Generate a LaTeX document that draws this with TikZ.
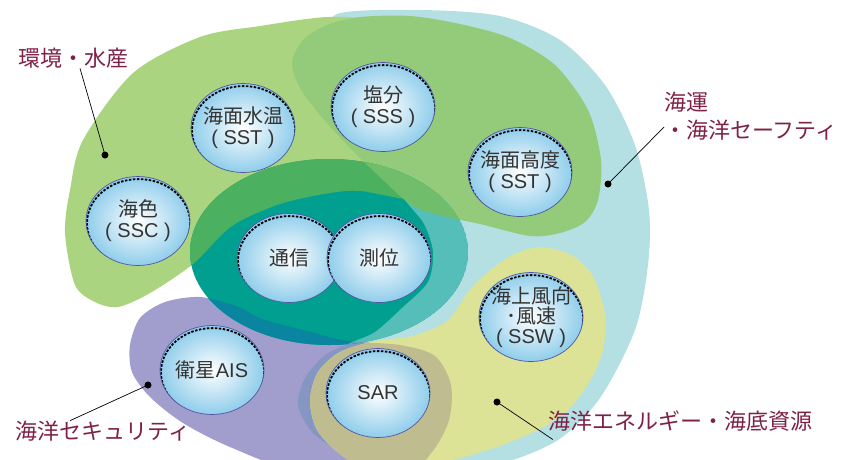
\documentclass[tikz,border=0pt]{standalone}
\usepackage{fontspec}
\setmainfont{Noto Sans CJK JP}
\newfontfamily\latinfont{Liberation Sans}
\usetikzlibrary{shapes.geometric}

\definecolor{seablue}{HTML}{B4E0E4}
\definecolor{envgreen}{HTML}{AAD47F}
\definecolor{midgreen}{HTML}{94CB7A}
\definecolor{comteal}{HTML}{009F8F}
\definecolor{comgreen}{HTML}{4BB060}
\definecolor{commid}{HTML}{70BE6B}
\definecolor{comsea}{HTML}{55BEB9}
\definecolor{comsec}{HTML}{0985A0}
\definecolor{comsecsea}{HTML}{5BA8BA}
\definecolor{secpurple}{HTML}{A19ECD}
\definecolor{secsea}{HTML}{8596C3}
\definecolor{enyellow}{HTML}{DCE397}
\definecolor{enolive}{HTML}{BFBD90}
\definecolor{bubbleblue}{HTML}{8FCDEB}
\definecolor{bubbleline}{HTML}{5455A0}
\definecolor{bubbleink}{HTML}{333333}
\definecolor{labelred}{HTML}{7E2147}

\tikzset{
  bubbleedge/.style={black, line width=1.8pt, dash pattern=on 2.5pt off 1.5pt},
  bubble/.style={ellipse, draw=bubbleline, line width=0.7pt, inner color=white,
    outer color=bubbleblue, minimum width=104pt, minimum height=89pt, inner sep=0pt,
    path picture={\draw[bubbleedge] ([xshift=0.6pt,yshift=-2.2pt]path picture bounding box.center)
      ellipse [x radius=51.6, y radius=44.1];}},
  bubbletext/.style={align=center, text=bubbleink, inner sep=0pt,
    font=\fontsize{20}{21}\selectfont},
  arealabel/.style={text=labelred, inner sep=0pt, font=\fontsize{22}{28}\selectfont},
  leader/.style={line width=0.7pt},
  leaderdot/.style={fill=black}
}

\begin{document}
\begin{tikzpicture}[x=1pt,y=-1pt]
\useasboundingbox (0,0) rectangle (845,459);
\clip (0,0) rectangle (845,459);

% outlines of the areas
\def\seablob{plot[smooth cycle] coordinates {(337,14) (420,10) (500,16) (560,40)
  (605,85) (635,145) (649,210) (648,265) (635,330) (600,398) (558,440) (500,464)
  (430,476) (375,470) (340,452) (312,432) (298,405) (305,378) (325,355) (350,343)
  (375,332) (402,308) (428,282) (433,252) (424,224) (405,200) (378,160) (348,100)
  (330,45)}}
\def\envblob{plot[smooth cycle] coordinates {(65,233) (70,190) (83,140) (133,73)
  (200,37) (260,26) (327,17) (372,22) (415,55) (438,110) (445,170) (435,200)
  (405,199) (360,191) (330,193) (280,204) (232,226) (193,264) (150,293) (118,307)
  (95,302) (75,285)}}
\def\midblob{plot[smooth cycle] coordinates {(292,63) (303,40) (327,25) (360,17)
  (410,16) (460,24) (510,38) (555,65) (588,110) (601,160) (598,200) (585,222)
  (560,233) (530,236) (480,224) (447,217) (413,206) (383,180) (350,148) (320,115)
  (300,88)}}
\def\secblob{plot[smooth cycle] coordinates {(130,345) (140,318) (165,302) (200,297)
  (236,306) (262,319) (307,331) (347,341) (400,345) (435,356) (451,385) (449,420)
  (432,452) (400,478) (300,472) (230,447) (183,423) (150,397) (132,372)}}
\def\enblob{plot[smooth cycle] coordinates {(310,400) (318,372) (340,352) (375,341)
  (412,336) (447,321) (473,286) (507,258) (540,247) (573,256) (594,278) (605,315)
  (603,350) (590,381) (568,410) (538,430) (497,447) (457,459) (410,472) (370,472)
  (335,450) (316,428)}}
\def\comblob{(329,252) ellipse [x radius=139, y radius=93]}

% areas
\fill[seablue] \seablob;
\fill[secpurple] \secblob;
\begin{scope}
  \clip \secblob;
  \fill[secsea] \seablob;
\end{scope}
\fill[enyellow] \enblob;
\begin{scope}
  \clip \enblob;
  \fill[enolive] \secblob;
\end{scope}
\fill[envgreen] \envblob;
\fill[midgreen] \midblob;
\begin{scope}
  \clip \comblob;
  \fill[comteal] \comblob;
  \fill[comsea] \seablob;
  \fill[comsec] \secblob;
  \begin{scope}
    \clip \secblob;
    \fill[comsecsea] \seablob;
  \end{scope}
  \fill[comgreen] \envblob;
  \fill[commid] \midblob;
\end{scope}

% sensors
\node[bubble, label={[bubbletext]center:{海面水温\\{\latinfont ( SST )}}}] (sst) at (243,128) {};
\node[bubble, label={[bubbletext]center:{塩分\\{\latinfont ( SSS )}}}] (sss) at (383,107) {};
\node[bubble, label={[bubbletext]center:{海面高度\\{\latinfont ( SST )}}}] (ssh) at (520,172) {};
\node[bubble, label={[bubbletext]center:{海色\\{\latinfont ( SSC )}}}] (ssc) at (138,221) {};
\node[bubble, label={[bubbletext]center:通信}] (com) at (289,258) {};
\node[bubble, label={[bubbletext]center:測位}] (pos) at (379,258) {};
\node[bubble, label={[bubbletext]center:{衛星{\latinfont AIS}}}] (ais) at (212,370) {};
\node[bubble, label={[bubbletext]center:{\latinfont SAR}}] (sar) at (378,393) {};
\node[bubble, label={[bubbletext, font=\fontsize{20}{20}\selectfont]center:{海上風向\\･風速\\{\latinfont ( SSW )}}}] (ssw) at (531,317) {};

% area names
\node[arealabel] (envlabel) at (73,58) {環境・水産};
\node[arealabel, align=left, anchor=west] (sealabel) at (664,116) {海運\\・海洋セーフティ};
\node[arealabel] (seclabel) at (103,431) {海洋セキュリティ};
\node[arealabel] (enerlabel) at (680,421) {海洋エネルギー・海底資源};

% leaders
\coordinate (envdot) at (105,155);
\coordinate (seadot) at (608,184);
\coordinate (secdot) at (148,385);
\coordinate (enerdot) at (497,402);
\draw[leader] ([xshift=7pt]envlabel.south) -- (envdot);
\draw[leader] ([yshift=-11pt]sealabel.west) -- (seadot);
\draw[leader] ([xshift=-33pt]seclabel.north) -- (secdot);
\draw[leader] ([xshift=5pt,yshift=-8pt]enerlabel.south west) -- (enerdot);
\fill[leaderdot] (envdot) circle (3.5);
\fill[leaderdot] (seadot) circle (3.5);
\fill[leaderdot] (secdot) circle (3.5);
\fill[leaderdot] (enerdot) circle (3.5);
\end{tikzpicture}
\end{document}
